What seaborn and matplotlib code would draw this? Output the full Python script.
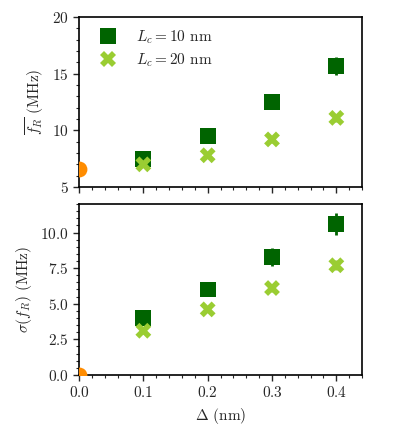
import numpy as np
import pandas as pd
import matplotlib
matplotlib.use("Agg")
import matplotlib.pyplot as plt
from matplotlib.ticker import MultipleLocator
import seaborn as sns

# Data
delta = [0.1, 0.2, 0.3, 0.4]
mean_lc10 = [7.5, 9.5, 12.5, 15.7]
mean_lc10_err = [0.3, 0.3, 0.6, 0.8]
mean_lc20 = [7.0, 7.8, 9.2, 11.1]
mean_lc20_err = [0.2, 0.2, 0.3, 0.35]
std_lc10 = [4.0, 6.0, 8.3, 10.6]
std_lc10_err = [0.3, 0.3, 0.62, 0.76]
std_lc20 = [3.1, 4.6, 6.1, 7.7]
std_lc20_err = [0.2, 0.2, 0.3, 0.35]
ref_delta = [0.0]
ref_mean = [6.6]
ref_std = [0.0]

DARK = "#006400"
LIGHT = "#9ACD32"
ORANGE = "#FF8C00"

sns.set_style("ticks")
plt.rcParams["font.family"] = ["cmr10"]
plt.rcParams["mathtext.fontset"] = "cm"
plt.rcParams["axes.formatter.use_mathtext"] = True
plt.rcParams["font.size"] = 11

lab10 = r"$L_c = 10$ nm"
lab20 = r"$L_c = 20$ nm"

df_mean = pd.DataFrame({
    "delta": delta * 2,
    "val": mean_lc10 + mean_lc20,
    "err": mean_lc10_err + mean_lc20_err,
    "Lc": [lab10] * 4 + [lab20] * 4,
})
df_std = pd.DataFrame({
    "delta": delta * 2,
    "val": std_lc10 + std_lc20,
    "err": std_lc10_err + std_lc20_err,
    "Lc": [lab10] * 4 + [lab20] * 4,
})

fig = plt.figure(figsize=(3.94, 4.26), dpi=100)
ax1 = fig.add_axes([0.2005, 0.561, 0.7185, 0.399])
ax2 = fig.add_axes([0.2005, 0.120, 0.7185, 0.401])

palette = {lab10: DARK, lab20: LIGHT}
markers = {lab10: "s", lab20: "X"}

for ax, df, ref in [(ax1, df_mean, ref_mean), (ax2, df_std, ref_std)]:
    for lab in [lab10, lab20]:
        sub = df[df["Lc"] == lab]
        ax.errorbar(sub["delta"], sub["val"], yerr=sub["err"], fmt="none",
                    ecolor=palette[lab], elinewidth=2, capsize=0, zorder=2)
    sns.scatterplot(data=df, x="delta", y="val", hue="Lc", style="Lc",
                    palette=palette, markers=markers, s=130, linewidth=0,
                    ax=ax, zorder=3, legend=(ax is ax1))
    ax.scatter(ref_delta, ref, s=130, color=ORANGE, linewidth=0, zorder=3)
    ax.set_xlim(0, 0.44)
    ax.xaxis.set_major_locator(MultipleLocator(0.1))
    ax.xaxis.set_minor_locator(MultipleLocator(0.02))
    ax.tick_params(which="major", direction="out", length=4, width=1,
                   top=False, right=False)
    ax.tick_params(which="minor", direction="out", length=2.5, width=0.8,
                   top=False, right=False)
    for sp in ax.spines.values():
        sp.set_linewidth(1.2)
        sp.set_color("black")

ax1.set_ylim(5, 20)
ax1.yaxis.set_major_locator(MultipleLocator(5))
ax1.yaxis.set_minor_locator(MultipleLocator(1))
ax1.set_xticklabels([])
ax1.set_xlabel("")
ax1.set_ylabel(r"$\overline{f_R}$ (MHz)")
ax1.legend(loc="upper left", bbox_to_anchor=(0.02, 0.985), frameon=False,
           title=None, handletextpad=0.8, borderaxespad=0.25, borderpad=0.3,
           labelspacing=0.35)

ax2.set_ylim(0, 12)
ax2.yaxis.set_major_locator(MultipleLocator(2.5))
ax2.yaxis.set_minor_locator(MultipleLocator(0.5))
ax2.set_xlabel(r"$\Delta$ (nm)")
ax2.set_ylabel(r"$\sigma(f_R)$ (MHz)")

fig.savefig("out.png", dpi=100)
